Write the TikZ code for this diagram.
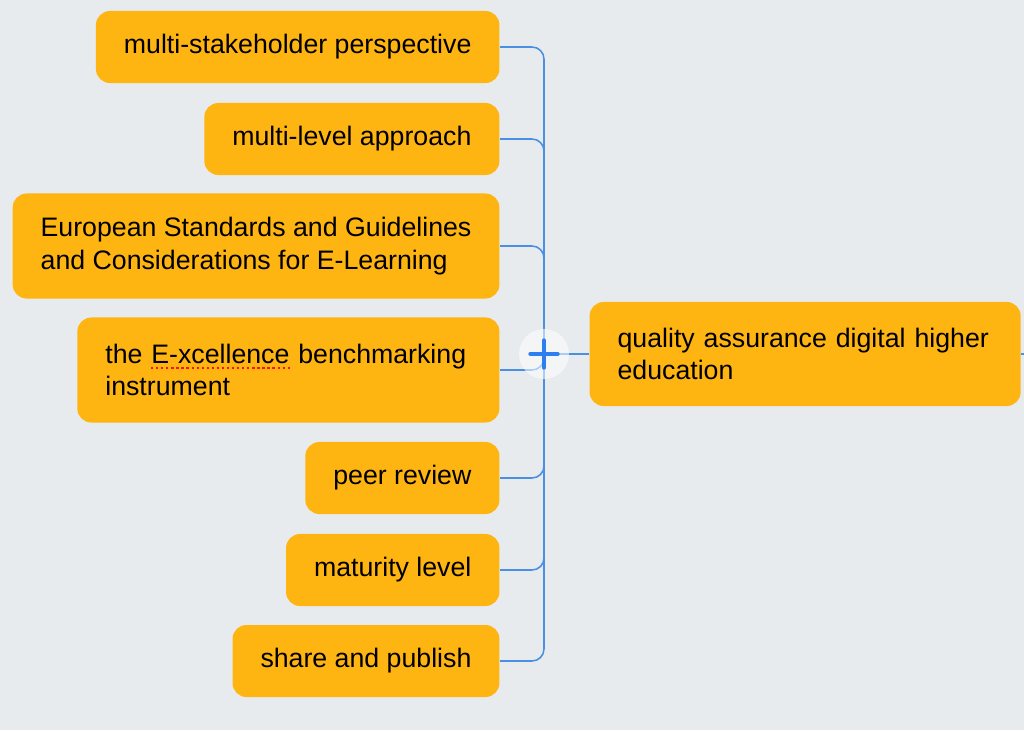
\documentclass[tikz,border=0pt]{standalone}
\usepackage{fontspec}
\setmainfont{Liberation Sans}
\definecolor{canvas}{HTML}{E7EBEE}
\definecolor{topic}{HTML}{FEB512}
\definecolor{wire}{HTML}{4A90E2}
\definecolor{plusblue}{HTML}{2D7FF0}
\tikzset{
  leaf/.style={fill=topic, rounded corners=0.35cm, anchor=east, align=left,
    inner xsep=0.7cm, minimum height=1.8cm, font=\fontsize{19}{23}\selectfont},
  link/.style={wire, line width=1.1pt, rounded corners=0.3cm}
}
\begin{document}
\begin{tikzpicture}[x=0.025cm, y=-0.025cm, thick]
            \fill[canvas] (0,0) rectangle (1024,730);
            \useasboundingbox (0,0) rectangle (1024,730);
            \coordinate (hub) at (544,354);
            \coordinate (edge) at (1024,354);
            \node[leaf] (stake) at (500,47) {multi-stakeholder perspective};
            \node[leaf] (level) at (500,139) {multi-level approach};
            \node[leaf, minimum height=2.625cm] (esg) at (500,246) {European Standards and Guidelines\\and Considerations for E-Learning};
            \node[leaf, minimum height=2.625cm, text width=9.15cm] (excel) at (500,370) {the E-xcellence benchmarking\\instrument};
            \node[leaf] (peer) at (500,478) {peer review};
            \node[leaf] (mature) at (500,570) {maturity level};
            \node[leaf] (share) at (500,661) {share and publish};
            \node[leaf, anchor=west, minimum height=2.6cm, text width=9.375cm] (root) at (589,354) {quality assurance digital higher education};
            \draw[red!85!orange, dotted, line width=1.6pt] (151,368) -- (290,368);
            \foreach \b in {stake,level,esg,excel,peer,mature,share}
              \draw[link] (\b.east) -| (hub);
            \draw[link] (hub) -- (root.west);
            \draw[link] (root.east) -- (edge);
            \node[circle, fill=white, fill opacity=0.55, minimum size=1.25cm] (plus) at (hub) {};
            \draw[plusblue, line width=3pt, line cap=round] ([xshift=-0.34cm]plus.center) -- ([xshift=0.34cm]plus.center);
            \draw[plusblue, line width=3pt, line cap=round] ([yshift=-0.34cm]plus.center) -- ([yshift=0.34cm]plus.center);
        \end{tikzpicture}
\end{document}
